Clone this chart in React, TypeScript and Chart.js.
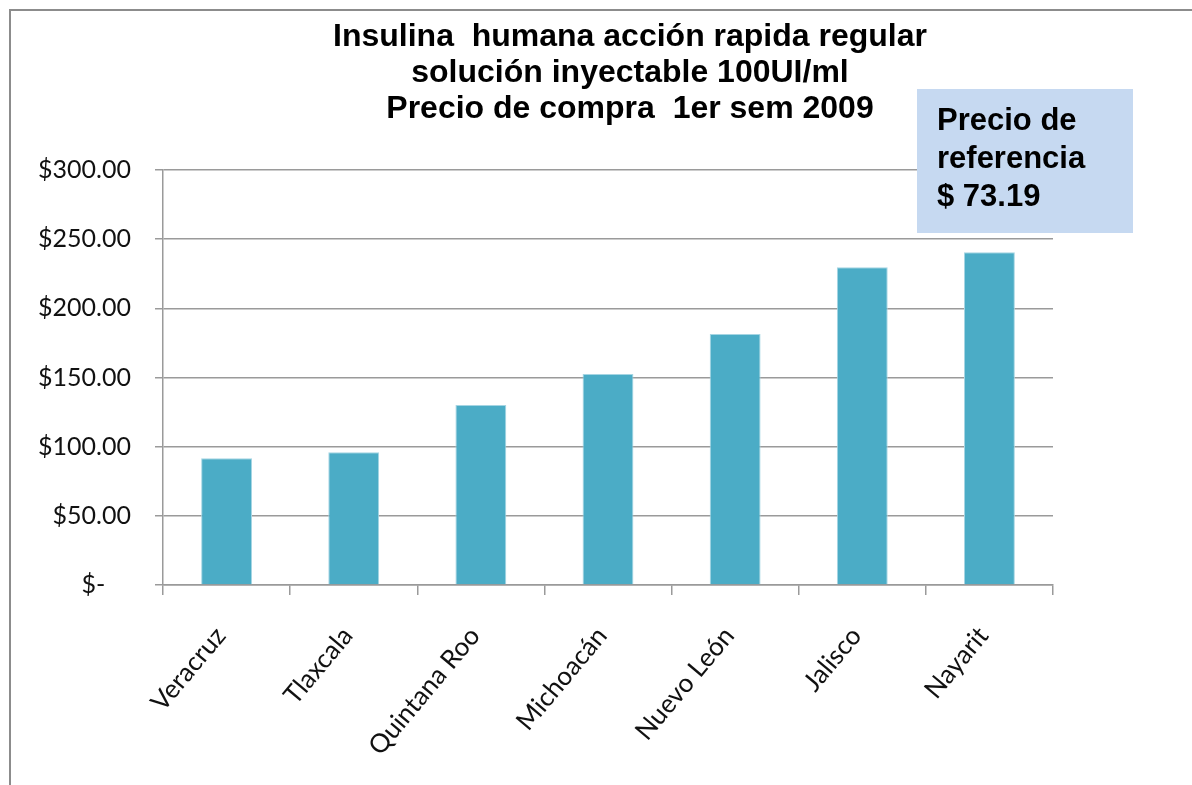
import React, { useEffect, useRef } from "react";
import { Chart, registerables } from "chart.js";

Chart.register(...registerables);

const categories = ["Veracruz", "Tlaxcala", "Quintana Roo", "Michoacán", "Nuevo León", "Jalisco", "Nayarit"];
const prices = [91.6, 95.9, 130.1, 152.5, 181.4, 229.7, 240.5];
const titleLines = ["Insulina  humana acción rapida regular", "solución inyectable 100UI/ml", "Precio de compra  1er sem 2009"];
const refLines = ["Precio de", "referencia", "$ 73.19"];
const yMin = 0;
const yMax = 300;
const yStep = 50;

const LABEL_FONT = "Lato, 'Open Sans', sans-serif";
const GRID = "#9a9a9a";

const overlayPlugin = {
  id: "overlay",
  afterDraw(chart: any) {
    const ctx = chart.ctx;
    ctx.save();
    ctx.fillStyle = "#000";
    ctx.font = "bold 32px 'Liberation Sans', Arial, sans-serif";
    ctx.textAlign = "center";
    ctx.textBaseline = "alphabetic";
    titleLines.forEach((t, i) => ctx.fillText(t, 630, 46 + i * 36));
    ctx.fillStyle = "#C6D9F1";
    ctx.fillRect(917, 89, 216, 144);
    ctx.fillStyle = "#000";
    ctx.font = "bold 31px 'Liberation Sans', Arial, sans-serif";
    ctx.textAlign = "left";
    refLines.forEach((t, i) => ctx.fillText(t, 937, 130 + i * 38));
    ctx.restore();
  },
};

export default function App() {
  const ref = useRef<HTMLCanvasElement>(null);
  useEffect(() => {
    if (!ref.current) return;
    const chart = new Chart(ref.current, {
      type: "bar",
      data: {
        labels: categories,
        datasets: [
          {
            data: prices,
            backgroundColor: "#4BACC6",
            borderColor: "#A5D5E3",
            borderWidth: 1,
            barPercentage: 0.4,
            categoryPercentage: 1,
          },
        ],
      },
      options: {
        responsive: false,
        animation: false,
        layout: { padding: { left: 0, right: 139, top: 170, bottom: 0 } },
        plugins: { legend: { display: false }, title: { display: false }, tooltip: { enabled: false } },
        scales: {
          x: {
            offset: true,
            grid: { display: true, drawOnChartArea: false, drawTicks: true, tickLength: 10, color: GRID, lineWidth: 1.5, offset: true },
            border: { color: GRID, width: 1.5 },
            ticks: {
              color: "#111",
              font: { family: LABEL_FONT, size: 26 },
              minRotation: 50,
              maxRotation: 50,
              autoSkip: false,
              padding: 26,
              labelOffset: -6,
            },
            afterFit: (s: any) => {
              s.height = 200;
            },
          },
          y: {
            min: yMin,
            max: yMax,
            grid: { color: GRID, lineWidth: 1.5, tickLength: 8, drawTicks: true },
            border: { color: GRID, width: 1.5 },
            ticks: {
              stepSize: yStep,
              color: "#111",
              padding: 24,
              font: { family: LABEL_FONT, size: 25 },
              callback: (v: any) => (Number(v) === 0 ? "$-    " : "$" + Number(v).toFixed(2)),
            },
            afterFit: (s: any) => {
              s.width = 163;
            },
          },
        },
      },
      plugins: [overlayPlugin],
    });
    return () => chart.destroy();
  }, []);
  return (
    <div style={{ position: "fixed", left: 0, top: 0, width: 1192, height: 785, overflow: "hidden", background: "#fff" }}>
      <div style={{ position: "absolute", left: 9, top: 9, width: 1400, height: 1000, border: "2px solid #8c8c8c" }} />
      <canvas ref={ref} width={1192} height={785} style={{ position: "absolute", left: 0, top: 0 }} />
    </div>
  );
}
